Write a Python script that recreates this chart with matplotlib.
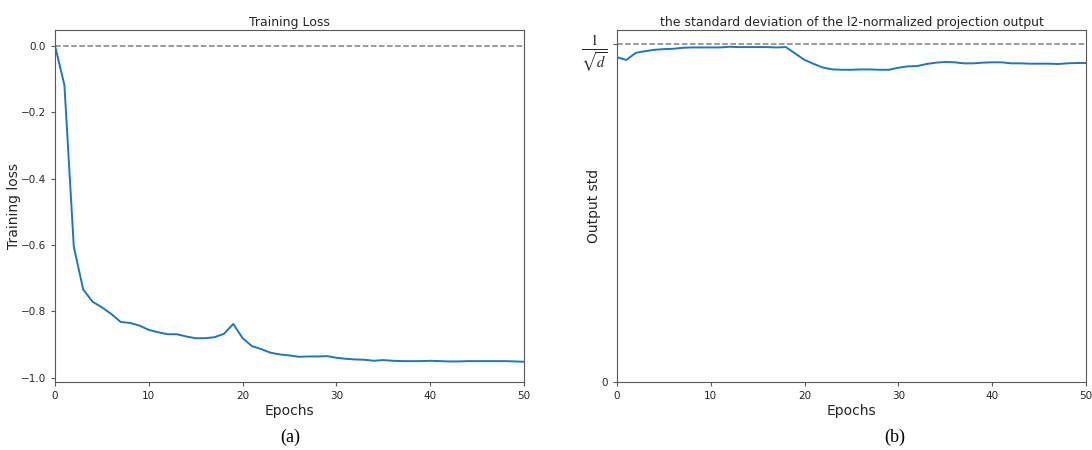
import numpy as np
import matplotlib
matplotlib.use("Agg")
import matplotlib.pyplot as plt

# values
epochs = list(range(51))

train_loss = [0.0, -0.118, -0.605, -0.734, -0.771, -0.788, -0.808, -0.832, -0.835, -0.843,
              -0.856, -0.863, -0.869, -0.869, -0.876, -0.881, -0.881, -0.878, -0.868, -0.838,
              -0.881, -0.905, -0.914, -0.925, -0.930, -0.933, -0.937, -0.936, -0.936, -0.935,
              -0.940, -0.943, -0.945, -0.946, -0.949, -0.947, -0.949, -0.950, -0.950, -0.950,
              -0.949, -0.950, -0.951, -0.951, -0.950, -0.950, -0.950, -0.950, -0.950, -0.951,
              -0.952]

# output std, in units of 1/sqrt(d)
output_std = [0.960, 0.952, 0.973, 0.978, 0.982, 0.984, 0.985, 0.988, 0.989, 0.989,
              0.989, 0.989, 0.991, 0.990, 0.990, 0.990, 0.990, 0.989, 0.990, 0.971,
              0.952, 0.940, 0.929, 0.924, 0.923, 0.923, 0.924, 0.924, 0.923, 0.923,
              0.929, 0.933, 0.934, 0.940, 0.944, 0.946, 0.945, 0.942, 0.942, 0.944,
              0.945, 0.945, 0.942, 0.942, 0.941, 0.941, 0.941, 0.940, 0.942, 0.943,
              0.943]
ref_std = 1.0

plt.rcParams["mathtext.fontset"] = "stix"

fig = plt.figure(figsize=(10.92, 4.5), dpi=100)
ax1 = fig.add_axes([0.0504, 0.1511, 0.4295, 0.7822])
ax2 = fig.add_axes([0.5650, 0.1511, 0.4295, 0.7822])

edge = "0.35"
for ax in (ax1, ax2):
    for s in ax.spines.values():
        s.set_color(edge)
    ax.tick_params(labelsize=7.5, color=edge, length=3, labelcolor="0.15")
    ax.set_xlim(0, 50)
    ax.set_xticks([0, 10, 20, 30, 40, 50])
    ax.set_xlabel("Epochs", fontsize=10, labelpad=2, color="0.15")

# ----------- (a) training loss -----------
ax1.plot(epochs, train_loss, color="#1f77b4", linewidth=1.4)
ax1.axhline(0.0, color="gray", linestyle="--", linewidth=1.1)
ax1.set_ylim(-1.013, 0.048)
ax1.set_yticks([0.0, -0.2, -0.4, -0.6, -0.8, -1.0])
ax1.set_ylabel("Training loss", fontsize=10, color="0.15")
ax1.yaxis.set_label_coords(-0.073, 0.5)
ax1.set_title("Training Loss", fontsize=9, pad=3, color="0.15")

# ----------- (b) output std -----------
ax2.plot(epochs, output_std, color="#1f77b4", linewidth=1.4)
ax2.axhline(ref_std, color="gray", linestyle="--", linewidth=1.1)
ax2.set_ylim(0, ref_std * 1.0405)
ax2.set_yticks([0, ref_std])
ax2.set_yticklabels(["0", r"$\frac{1}{\sqrt{d}}$"])
ax2.get_yticklabels()[1].set_fontsize(15)
ax2.set_ylabel("Output std", fontsize=10, color="0.15")
ax2.yaxis.set_label_coords(-0.034, 0.5)
ax2.set_title("the standard deviation of the l2-normalized projection output",
              fontsize=9, pad=3, color="0.15")

fig.text(0.266, 0.018, "(a)", fontsize=13, family="Liberation Serif", ha="center")
fig.text(0.8195, 0.018, "(b)", fontsize=13, family="Liberation Serif", ha="center")

fig.savefig("out.png", dpi=100)
